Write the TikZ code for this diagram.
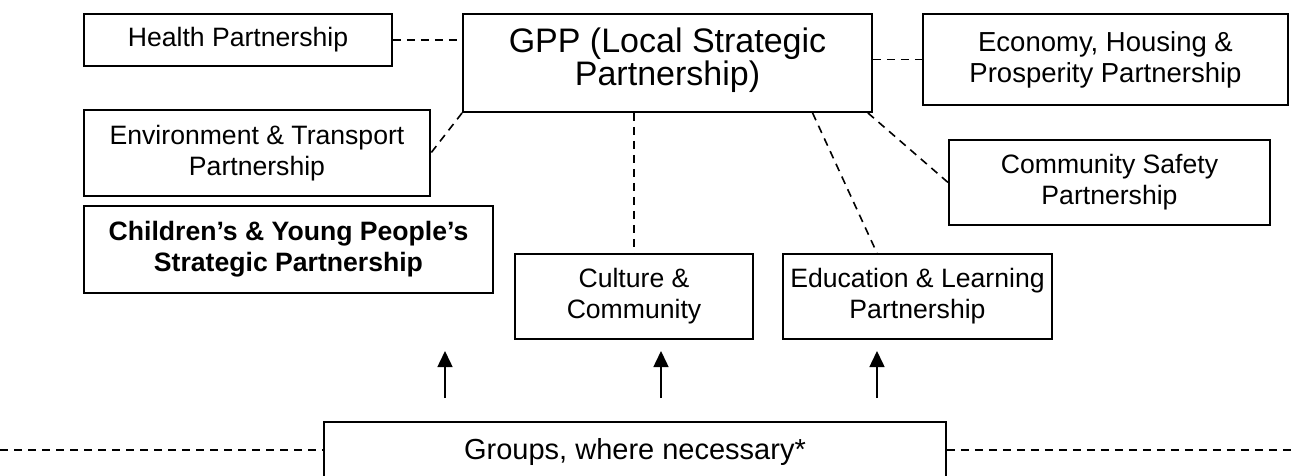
\documentclass[tikz,border=0pt]{standalone}
\usepackage{fontspec}
\setmainfont{Liberation Sans}
\usetikzlibrary{arrows.meta}

\begin{document}
\begin{tikzpicture}[x=1pt, y=-1pt,
    partbox/.style={draw, line width=1.9pt, align=center, inner sep=0pt,
        font=\fontsize{26.6}{31}\selectfont},
    link/.style={line width=1.6pt, dash pattern=on 8pt off 6pt},
    uparrow/.style={line width=1.5pt, -{Triangle[length=16pt,width=15pt]}}]

    \useasboundingbox (0,0) rectangle (1296,476);

    % Top row
    \node[partbox, minimum width=308pt, minimum height=52pt] (health) at (238,40) {Health Partnership};
    \node[partbox, minimum width=409pt, minimum height=98pt, text depth=12pt,
        font=\fontsize{34}{30}\selectfont] (gpp) at (667.5,63) {GPP (Local Strategic\\Partnership)};
    \node[partbox, minimum width=365pt, minimum height=91pt,
        font=\fontsize{27.5}{31}\selectfont] (econ) at (1105.5,59.5) {Economy, Housing \&\\Prosperity Partnership};

    % Side partnerships
    \node[partbox, minimum width=346pt, minimum height=86pt] (env) at (257,153) {Environment \& Transport\\Partnership};
    \node[partbox, minimum width=409pt, minimum height=87pt,
        font=\fontsize{26.6}{31}\selectfont\bfseries] (cyp) at (288.5,249.5) {Children’s \& Young People’s\\Strategic Partnership};
    \node[partbox, minimum width=321pt, minimum height=85pt] (safety) at (1109.5,182.5) {Community Safety\\Partnership};

    % Lower partnerships
    \node[partbox, minimum width=238pt, minimum height=85pt] (culture) at (634,296.5) {Culture \&\\Community};
    \node[partbox, minimum width=269pt, minimum height=85pt] (edu) at (917.5,296.5) {Education \& Learning\\Partnership};

    % Groups
    \node[partbox, minimum width=622pt, minimum height=60pt,
        font=\fontsize{29}{31}\selectfont] (groups) at (635,452) {Groups, where necessary*};

    % Dashed links
    \draw[link] (health.east) -- (health.east -| gpp.west);
    \draw[link] (gpp.east |- econ.west) -- (econ.west);
    \draw[link] (gpp.south west) -- (env.east);
    \draw[link] (gpp.south -| culture.north) -- (culture.north);
    \draw[link] (gpp.-19.2) -- (edu.133.6);
    \draw[link] (gpp.-14.3) -- (safety.west);

    \coordinate (leftend) at (0,450);
    \coordinate (rightend) at (1296,450);
    \draw[link] (leftend) -- (leftend -| groups.west);
    \draw[link] (groups.east |- rightend) -- (rightend);

    % Arrows up from groups
    \foreach \ax [count=\i] in {445,661,877} {
        \coordinate (tail\i) at (\ax,398);
        \coordinate (tip\i) at (\ax,351);
        \draw[uparrow] (tail\i) -- (tip\i);
    }

\end{tikzpicture}
\end{document}
